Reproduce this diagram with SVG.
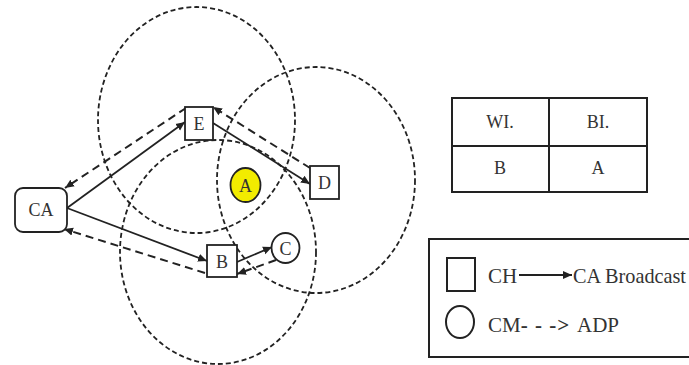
<svg xmlns="http://www.w3.org/2000/svg" width="689" height="365" viewBox="0 0 689 365">
<style>
.range{fill:none;stroke:#222;stroke-width:1.8;stroke-dasharray:5 3}
.box{fill:#fff;stroke:#222;stroke-width:1.8}
.lbl{font-family:'Liberation Serif','Times New Roman',serif;font-size:18px;fill:#333;text-anchor:middle;dominant-baseline:central}
.solid{fill:none;stroke:#222;stroke-width:1.8}
.dash{fill:none;stroke:#222;stroke-width:2;stroke-dasharray:8 5}
.tbl{fill:none;stroke:#222;stroke-width:2}
.txt{font-family:'Liberation Serif','Times New Roman',serif;fill:#333}
</style>
<defs>
<marker id="ah" markerUnits="userSpaceOnUse" markerWidth="10" markerHeight="10" refX="9" refY="5" orient="auto">
<path d="M0,1 L9,5 L0,9 Z" fill="#222"/>
</marker>
</defs>
<rect width="689" height="365" fill="#fff"/>
<g id="ranges">
<ellipse class="range" cx="196.5" cy="120" rx="98.5" ry="113"/>
<ellipse class="range" cx="316" cy="180" rx="99" ry="113"/>
<ellipse class="range" cx="218" cy="252" rx="98" ry="112"/>
</g>
<g id="connectors">
<line class="solid" x1="67" y1="208" x2="185" y2="122" marker-end="url(#ah)"/>
<line class="dash" x1="186" y1="108" x2="65" y2="188" marker-end="url(#ah)"/>
<line class="solid" x1="67" y1="208" x2="207" y2="261" marker-end="url(#ah)"/>
<line class="dash" x1="205" y1="273" x2="64" y2="229" marker-end="url(#ah)"/>
<line class="solid" x1="213" y1="123" x2="310" y2="184" marker-end="url(#ah)"/>
<line class="dash" x1="310" y1="168" x2="213" y2="107" marker-end="url(#ah)"/>
<line class="solid" x1="237" y1="262" x2="272" y2="247" marker-end="url(#ah)"/>
<line class="dash" x1="276" y1="260" x2="237" y2="274" marker-end="url(#ah)"/>
</g>
<g id="CA"><rect class="box" x="15" y="188" width="52" height="44" rx="8"/><text class="lbl" font-family="Liberation Serif, serif" x="41" y="210">CA</text></g>
<g id="E"><rect class="box" x="185" y="107" width="28" height="33"/><text class="lbl" font-family="Liberation Serif, serif" x="199" y="124">E</text></g>
<g id="D"><rect class="box" x="310" y="166" width="29" height="33"/><text class="lbl" font-family="Liberation Serif, serif" x="324.5" y="183">D</text></g>
<g id="B"><rect class="box" x="207" y="245" width="30" height="32"/><text class="lbl" font-family="Liberation Serif, serif" x="222" y="262">B</text></g>
<g id="A"><ellipse cx="245.5" cy="185" rx="15" ry="17" fill="#f2ec00" stroke="#222" stroke-width="1.8"/><text class="lbl" font-family="Liberation Serif, serif" x="245.5" y="186">A</text></g>
<g id="C"><ellipse cx="285.5" cy="248" rx="14" ry="15" fill="#fff" stroke="#222" stroke-width="1.8"/><text class="lbl" font-family="Liberation Serif, serif" x="285.5" y="249">C</text></g>
<g id="table">
<rect class="tbl" x="452" y="98" width="195" height="94"/>
<line class="tbl" x1="452" y1="146" x2="647" y2="146"/>
<line class="tbl" x1="549" y1="98" x2="549" y2="192"/>
<text class="lbl" font-family="Liberation Serif, serif" x="500" y="122">WI.</text>
<text class="lbl" font-family="Liberation Serif, serif" x="598" y="122">BI.</text>
<text class="lbl" font-family="Liberation Serif, serif" x="500" y="168">B</text>
<text class="lbl" font-family="Liberation Serif, serif" x="598" y="168">A</text>
</g>
<g id="legend">
<rect class="tbl" x="429" y="239" width="280" height="118"/>
<rect class="tbl" x="447" y="258" width="28" height="33"/>
<ellipse cx="460" cy="322" rx="14" ry="16" fill="none" stroke="#222" stroke-width="2"/>
<text class="txt" font-family="Liberation Serif, serif" x="488" y="283" font-size="21">CH</text>
<line class="solid" x1="519" y1="275" x2="572" y2="275" marker-end="url(#ah)"/>
<text class="txt" font-family="Liberation Serif, serif" x="573" y="283" font-size="21" textLength="113" lengthAdjust="spacingAndGlyphs">CA Broadcast</text>
<text class="txt" font-family="Liberation Serif, serif" x="488" y="332" font-size="21">CM<tspan font-weight="bold" letter-spacing="1">- - -&gt;</tspan><tspan x="577">ADP</tspan></text>
</g>
</svg>
